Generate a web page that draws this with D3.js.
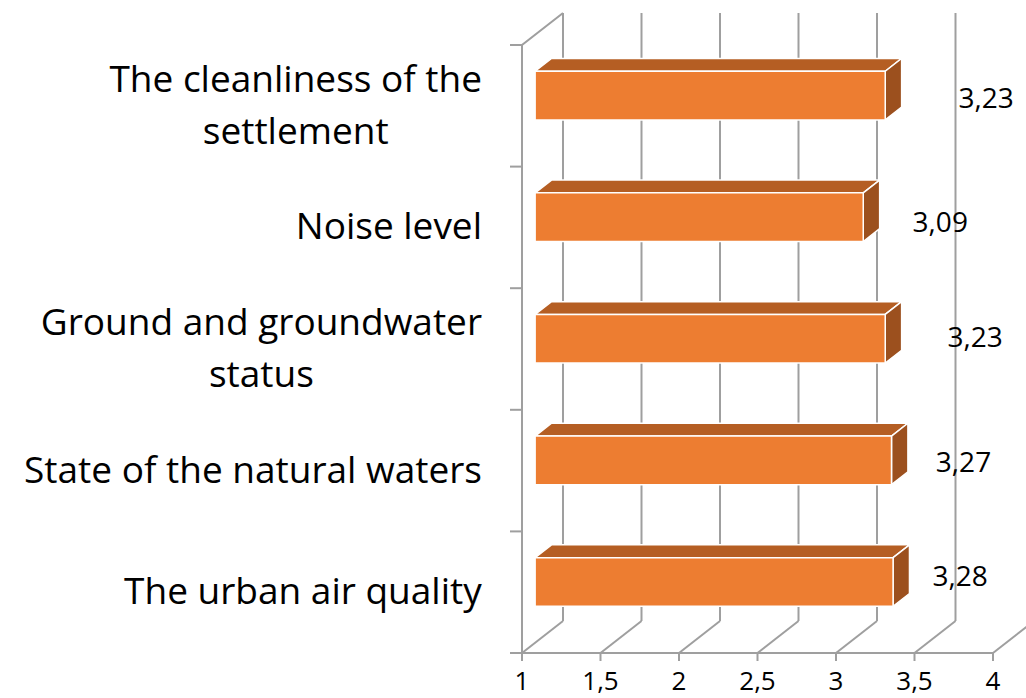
<!DOCTYPE html>
<html>
<head>
<meta charset="utf-8">
<script src="https://cdn.jsdelivr.net/npm/d3@7"></script>
<style>
  body { margin: 0; background: #fff; }
  text { font-family: "Open Sans", Lato, sans-serif; fill: #000; }
</style>
</head>
<body>
<svg id="chart" width="1026" height="698"></svg>
<script>
// categories (top to bottom), each label split in lines
const categories = [
    ["The cleanliness of the", "settlement"],
    ["Noise level"],
    ["Ground and groundwater", "status"],
    ["State of the natural waters"],
    ["The urban air quality"]
];
const values = [3.23, 3.09, 3.23, 3.27, 3.28];
const xTicks = [1, 1.5, 2, 2.5, 3, 3.5, 4];

// small nudges of the value labels, the way Excel placed them
const labelNudge = [[101, 2], [77, 5], [90, -2], [72, 1], [67, -6]];

const svg = d3.select("#chart");

// front plane of the 3d box
const front = {left: 522, right: 993, top: 45, bottom: 653};
// depth offset of the back wall
const depth = {dx: 41, dy: -32};
// bars sit between these depth fractions
const barZ = [0.32, 0.72];

const locale = d3.formatLocale({decimal: ",", thousands: " ", grouping: [3], currency: ["", ""]});
const fmt = locale.format("~g");
const fmt2 = locale.format(".2f");

let x = d3.scaleLinear().domain([1, 4]).range([front.left, front.right]);
let y = d3.scaleBand().domain(d3.range(categories.length))
    .range([front.top, front.bottom])
    .paddingInner(0.6).paddingOuter(0.3);
let yBand = d3.scaleBand().domain(d3.range(categories.length)).range([front.top, front.bottom]);

const grid = "#9f9f9f";

// back wall gridlines
svg.append("g").selectAll("line").data(xTicks).enter()
    .append("line")
    .attr("x1", d => x(d) + depth.dx).attr("x2", d => x(d) + depth.dx)
    .attr("y1", front.top + depth.dy).attr("y2", front.bottom + depth.dy)
    .attr("stroke", grid).attr("stroke-width", 2);

// floor lines
svg.append("g").selectAll("line").data(xTicks).enter()
    .append("line")
    .attr("x1", d => x(d)).attr("y1", front.bottom)
    .attr("x2", d => x(d) + depth.dx).attr("y2", front.bottom + depth.dy)
    .attr("stroke", grid).attr("stroke-width", 2);

// left wall
svg.append("path")
    .attr("d", "M" + front.left + "," + front.bottom + "V" + front.top +
        "L" + (front.left + depth.dx) + "," + (front.top + depth.dy))
    .attr("fill", "none").attr("stroke", grid).attr("stroke-width", 2);

// category ticks
svg.append("g").selectAll("line").data(d3.range(categories.length + 1)).enter()
    .append("line")
    .attr("x1", front.left - 12).attr("x2", front.left)
    .attr("y1", i => i < categories.length ? yBand(i) : front.bottom)
    .attr("y2", i => i < categories.length ? yBand(i) : front.bottom)
    .attr("stroke", grid).attr("stroke-width", 2);

// value axis
svg.append("line")
    .attr("x1", front.left).attr("x2", front.right)
    .attr("y1", front.bottom).attr("y2", front.bottom)
    .attr("stroke", grid).attr("stroke-width", 2);
svg.append("g").selectAll("line").data(xTicks).enter()
    .append("line")
    .attr("x1", d => x(d)).attr("x2", d => x(d))
    .attr("y1", front.bottom).attr("y2", front.bottom + 8)
    .attr("stroke", grid).attr("stroke-width", 2);
svg.append("g").selectAll("text").data(xTicks).enter()
    .append("text")
    .attr("x", d => x(d)).attr("y", front.bottom + 37)
    .attr("text-anchor", "middle")
    .style("font-size", "26px")
    .text(d => fmt(d));

// bars
function pt(v, yy, z) {
    return [x(v) + depth.dx * z, yy + depth.dy * z];
}
let bars = svg.append("g").selectAll("g").data(values).enter().append("g");

bars.each(function(v, i) {
    let g = d3.select(this);
    let y0 = y(i), y1 = y(i) + y.bandwidth();
    let z0 = barZ[0], z1 = barZ[1];
    let poly = pts => pts.map(p => p.join(",")).join(" ");
    // top face
    g.append("polygon")
        .attr("points", poly([pt(1, y0, z0), pt(v, y0, z0), pt(v, y0, z1), pt(1, y0, z1)]))
        .attr("fill", "#b55e23").attr("stroke", "#fff").attr("stroke-width", 1.5);
    // side face
    g.append("polygon")
        .attr("points", poly([pt(v, y0, z0), pt(v, y0, z1), pt(v, y1, z1), pt(v, y1, z0)]))
        .attr("fill", "#9c501e").attr("stroke", "#fff").attr("stroke-width", 1.5);
    // front face
    g.append("polygon")
        .attr("points", poly([pt(1, y0, z0), pt(v, y0, z0), pt(v, y1, z0), pt(1, y1, z0)]))
        .attr("fill", "#ed7d31").attr("stroke", "#fff").attr("stroke-width", 1.5);
});

// value labels
svg.append("g").selectAll("text").data(values).enter()
    .append("text")
    .attr("x", (v, i) => x(v) + labelNudge[i][0] + depth.dx * barZ[0])
    .attr("y", (v, i) => yBand(i) + yBand.bandwidth() / 2 + labelNudge[i][1])
    .attr("text-anchor", "middle")
    .style("font-size", "28px")
    .text(v => fmt2(v));

// category labels, lines centered, block right aligned
const lineH = 52;
categories.forEach((lines, i) => {
    let t = svg.append("text")
        .attr("text-anchor", "middle")
        .style("font-size", "37px");
    lines.forEach((l, k) => {
        t.append("tspan").attr("x", 0)
            .attr("y", yBand(i) + yBand.bandwidth() / 2 + 12 + (k - (lines.length - 1) / 2) * lineH)
            .text(l);
    });
    let w = t.node().getBBox().width;
    t.selectAll("tspan").attr("x", 482 - w / 2);
});
</script>
</body>
</html>
